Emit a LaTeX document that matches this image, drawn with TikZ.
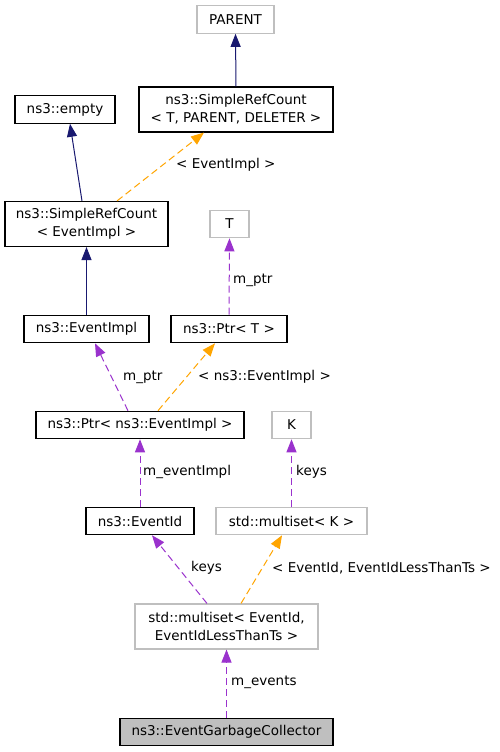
\documentclass[tikz,border=0pt]{standalone}
\usepackage{fontspec}
\setmainfont{DejaVu Sans}
\usetikzlibrary{arrows.meta}
\definecolor{navyc}{HTML}{191970}
\definecolor{orangec}{HTML}{FFA500}
\definecolor{purplec}{HTML}{9A32CD}
\definecolor{grayb}{HTML}{BFBFBF}
\tikzset{
  cls/.style={draw=black, line width=1.1pt, fill=white, inner sep=0pt, align=center, font=\fontsize{13.5}{18}\selectfont},
  ext/.style={cls, draw=grayb},
  focus/.style={cls, fill=grayb},
  one/.style={minimum height=27.5pt},
  two/.style={minimum height=45pt},
  inh/.style={draw=navyc, line width=1pt, -{Triangle[length=13pt,width=10pt]}, color=navyc},
  use/.style={draw=purplec, line width=1pt, dash pattern=on 7pt off 4pt, -{Triangle[length=13pt,width=10pt]}, color=purplec},
  tmpl/.style={draw=orangec, line width=1pt, dash pattern=on 7pt off 4pt, -{Triangle[length=13pt,width=10pt]}, color=orangec},
  lbl/.style={inner sep=0pt, font=\fontsize{13.5}{18}\selectfont, text=black},
}
\begin{document}
\begin{tikzpicture}[x=1pt,y=-1pt]
\useasboundingbox[fill=white] (0,0) rectangle (499,752);
% nodes
\node[ext, one, minimum width=77pt] (parent) at (235.5,19.5) {PARENT};
\node[cls, two, minimum width=194pt] (srctpd) at (236,109.5) {ns3::SimpleRefCount\\{}< T, PARENT, DELETER >};
\node[cls, one, minimum width=100pt] (empty) at (65,109.5) {ns3::empty};
\node[cls, two, minimum width=163pt] (srcei) at (86.5,224) {ns3::SimpleRefCount\\{}< EventImpl >};
\node[ext, one, minimum width=39pt] (t) at (229.5,224) {T};
\node[cls, one, minimum width=125pt] (eventimpl) at (86.5,329) {ns3::EventImpl};
\node[cls, one, minimum width=116pt] (ptrt) at (229,329) {ns3::Ptr< T >};
\node[cls, one, minimum width=208pt] (ptrei) at (140,425) {ns3::Ptr< ns3::EventImpl >};
\node[ext, one, minimum width=39pt] (k) at (291.5,425) {K};
\node[cls, one, minimum width=108pt] (eventid) at (140,521) {ns3::EventId};
\node[ext, one, minimum width=151pt] (msk) at (291.5,521) {std::multiset< K >};
\node[ext, two, minimum width=183pt] (mse) at (226.5,626.5) {std::multiset< EventId,\\EventIdLessThanTs >};
\node[focus, one, minimum width=213pt] (egc) at (226.5,732) {ns3::EventGarbageCollector};
% edges
\draw[inh] (srctpd.north) -- (parent.south);
\draw[inh] ([xshift=-4.5pt]srcei.north) -- ([xshift=5pt]empty.south);
\draw[tmpl] ([xshift=30.5pt]srcei.north) -- ([xshift=-32pt]srctpd.south);
\draw[inh] (eventimpl.north) -- (srcei.south);
\draw[use] (ptrt.north) -- (t.south);
\draw[use] ([xshift=-12pt]ptrei.north) -- ([xshift=8.5pt]eventimpl.south);
\draw[tmpl] ([xshift=18pt]ptrei.north) -- ([xshift=-14pt]ptrt.south);
\draw[use] (eventid.north) -- (ptrei.south);
\draw[use] (msk.north) -- (k.south);
\draw[use] ([xshift=-19.5pt]mse.north) -- ([xshift=12pt]eventid.south);
\draw[tmpl] ([xshift=14.5pt]mse.north) -- ([xshift=-9.5pt]msk.south);
\draw[use] (egc.north) -- (mse.south);
% labels
\node[lbl, anchor=west] (l1) at (176,165) {< EventImpl >};
\node[lbl, anchor=west] (l2) at (233,280) {m\_ptr};
\node[lbl, anchor=west] (l3) at (123,377) {m\_ptr};
\node[lbl, anchor=west] (l4) at (198,377) {< ns3::EventImpl >};
\node[lbl, anchor=west] (l5) at (143,472) {m\_eventImpl};
\node[lbl, anchor=west] (l6) at (296,472) {keys};
\node[lbl, anchor=west] (l7) at (191,568) {keys};
\node[lbl, anchor=west] (l8) at (272,568) {< EventId, EventIdLessThanTs >};
\node[lbl, anchor=west] (l9) at (231,682) {m\_events};
\end{tikzpicture}
\end{document}
